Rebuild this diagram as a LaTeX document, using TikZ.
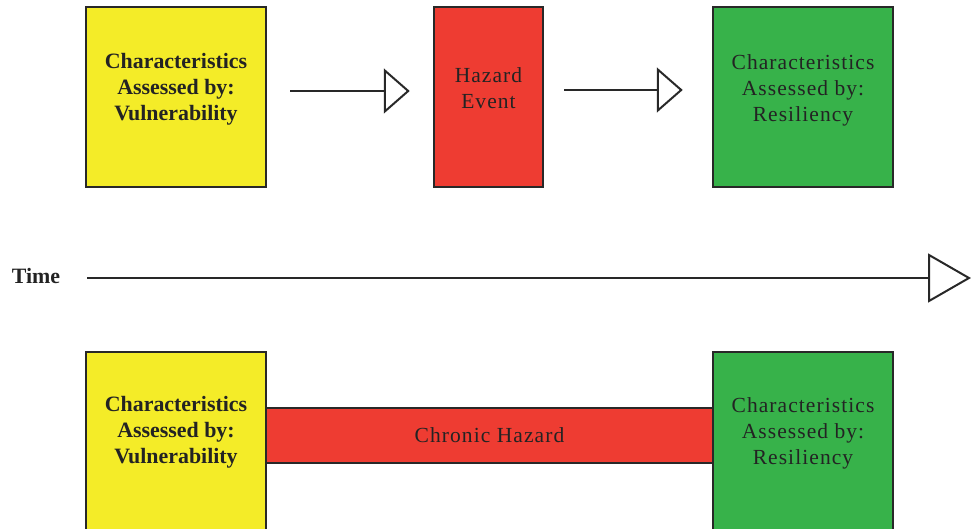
\documentclass[tikz,border=0pt]{standalone}
\usepackage{fontspec}
\setmainfont{Liberation Serif}
\newfontfamily\spacedfont[LetterSpace=5]{Liberation Serif}
\usetikzlibrary{arrows.meta,positioning}
\definecolor{vulnyellow}{RGB}{244,236,40}
\definecolor{hazardred}{RGB}{238,60,50}
\definecolor{resgreen}{RGB}{55,178,74}
\definecolor{boxline}{RGB}{40,40,40}
\definecolor{textdark}{RGB}{35,35,35}
\tikzset{
    box/.style={rectangle, draw=boxline, line width=2.5pt, minimum width=180pt, minimum height=180pt, inner sep=0pt},
    narrowbox/.style={box, minimum width=109pt},
    bar/.style={rectangle, draw=boxline, line width=2.5pt, fill=hazardred, minimum width=447pt, minimum height=55pt, inner sep=0pt},
    boldtext/.style={text=textdark, font=\fontsize{21.9}{26}\selectfont\bfseries, align=center},
    plaintext/.style={text=textdark, font=\fontsize{21.5}{26}\selectfont\spacedfont, align=center},
    openarrow/.style={draw=boxline, line width=2pt, -{Triangle[open, length=26pt, width=45pt]}},
    timearrow/.style={draw=boxline, line width=2pt, -{Triangle[open, length=43pt, width=49pt]}}
}

\begin{document}
\begin{tikzpicture}[x=1pt, y=-1pt]
    \useasboundingbox (0,0) rectangle (971,529);
    \clip (0,0) rectangle (971,529);

    % Acute hazard row
    \node [box, fill=vulnyellow] (vulnTop) at (176,97) {};
    \node [narrowbox, fill=hazardred] (hazardTop) at (488.5,97) {};
    \node [box, fill=resgreen] (resTop) at (803,97) {};

    \node [boldtext] (vulnTopText) at ([yshift=8pt]vulnTop.center) {Characteristics\\Assessed by:\\Vulnerability};
    \node [plaintext] (hazardTopText) at ([yshift=9pt]hazardTop.center) {Hazard\\Event};
    \node [plaintext] (resTopText) at ([yshift=7pt]resTop.center) {Characteristics\\Assessed by:\\Resiliency};

    \draw [openarrow, shorten <=23pt, shorten >=23pt] ([yshift=6pt]vulnTop.east) -- ([yshift=6pt]hazardTop.west);
    \draw [openarrow, shorten <=20pt, shorten >=29pt] ([yshift=7pt]hazardTop.east) -- ([yshift=7pt]resTop.west);

    % Time axis
    \node [boldtext] (timeLabel) at (36,276) {Time};
    \coordinate (timeStart) at (87,278);
    \coordinate (timeEnd) at (971,278);
    \draw [timearrow] (timeStart) -- (timeEnd);

    % Chronic hazard row
    \node [bar] (chronic) at (489.5,435.5) {};
    \node [plaintext] (chronicText) at (chronic.center) {Chronic Hazard};
    \node [box, fill=vulnyellow] (vulnBot) at (176,442) {};
    \node [box, fill=resgreen] (resBot) at (803,442) {};

    \node [boldtext] (vulnBotText) at ([yshift=10pt]vulnBot.center) {Characteristics\\Assessed by:\\Vulnerability};
    \node [plaintext] (resBotText) at ([yshift=9pt]resBot.center) {Characteristics\\Assessed by:\\Resiliency};
\end{tikzpicture}
\end{document}
